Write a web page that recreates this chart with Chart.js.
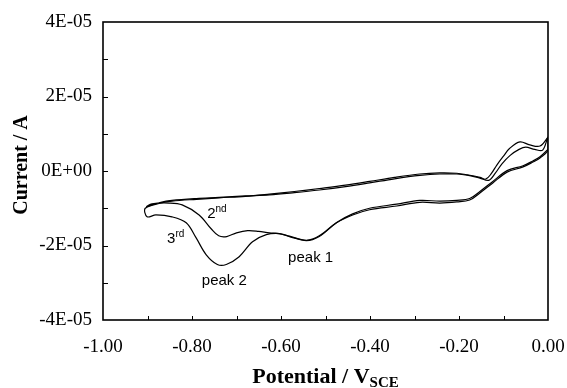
<!DOCTYPE html>
<html>
<head>
<meta charset="utf-8">
<script src="https://cdn.jsdelivr.net/npm/chart.js@4.4.0/dist/chart.umd.min.js"></script>
<style>
  html, body { margin: 0; padding: 0; background: #fff; }
  #wrap { width: 567px; height: 388px; }
</style>
</head>
<body>
<div id="wrap"><canvas id="cv" width="567" height="388"></canvas></div>
<script>
// potential in V vs SCE, current in units of 1E-05 A

// 2nd scan: anodic sweep from -0.9 V up to 0 V, then cathodic back to -0.9 V
const cycle2Potential = [
  -0.903, -0.870, -0.845, -0.790, -0.739, -0.680, -0.626, -0.570, -0.514, -0.455,
  -0.401, -0.345, -0.288, -0.243, -0.205, -0.182, -0.153, -0.133, -0.118, -0.103,
  -0.085, -0.065, -0.050, -0.030, -0.012, 0.000,
  0.000, -0.018, -0.034, -0.056, -0.092, -0.124, -0.153, -0.176, -0.205, -0.243,
  -0.288, -0.340, -0.401, -0.439, -0.475, -0.514, -0.543, -0.581, -0.604, -0.626,
  -0.650, -0.675, -0.700, -0.722, -0.740, -0.757, -0.784, -0.822, -0.851, -0.890, -0.903
];
const cycle2Current = [
  -0.96, -0.84, -0.79, -0.74, -0.71, -0.67, -0.64, -0.58, -0.51, -0.42,
  -0.32, -0.21, -0.12, -0.08, -0.08, -0.11, -0.19, -0.25, -0.05, 0.20,
  0.42, 0.58, 0.64, 0.58, 0.56, 0.91,
  0.56, 0.35, 0.24, 0.11, -0.03, -0.32, -0.59, -0.78, -0.83, -0.86,
  -0.84, -0.94, -1.04, -1.18, -1.39, -1.76, -1.87, -1.76, -1.68, -1.66,
  -1.62, -1.60, -1.66, -1.76, -1.74, -1.55, -1.18, -0.91, -0.86, -0.88, -0.96
];

// 3rd scan: cathodic sweep from 0 V down to -0.9 V, then anodic back to 0 V
const cycle3Potential = [
  0.000, -0.018, -0.034, -0.056, -0.092, -0.124, -0.153, -0.176, -0.205, -0.243,
  -0.288, -0.340, -0.401, -0.439, -0.475, -0.514, -0.543, -0.581, -0.604, -0.633,
  -0.664, -0.694, -0.723, -0.743, -0.768, -0.791, -0.813, -0.845, -0.881, -0.901,
  -0.905, -0.870, -0.845, -0.790, -0.739, -0.680, -0.626, -0.570, -0.514, -0.455,
  -0.401, -0.345, -0.288, -0.243, -0.205, -0.182, -0.153, -0.140, -0.128, -0.115,
  -0.100, -0.086, -0.063, -0.041, -0.018, 0.000
];
const cycle3Current = [
  0.58, 0.38, 0.27, 0.14, 0.01, -0.28, -0.55, -0.74, -0.79, -0.81,
  -0.79, -0.89, -1.00, -1.15, -1.38, -1.74, -1.86, -1.75, -1.68, -1.71,
  -1.90, -2.30, -2.51, -2.51, -2.25, -1.79, -1.39, -1.23, -1.18, -1.23,
  -1.00, -0.86, -0.81, -0.76, -0.72, -0.68, -0.62, -0.55, -0.47, -0.38,
  -0.28, -0.17, -0.08, -0.05, -0.06, -0.10, -0.17, -0.22, -0.08, 0.16,
  0.40, 0.61, 0.78, 0.70, 0.67, 0.91
];

// axis ticks
const xTickValues = [-1.0, -0.8, -0.6, -0.4, -0.2, 0.0];
const yTickValues = [-4, -2, 0, 2, 4];
const xMinorTicks = [-0.9, -0.8, -0.7, -0.6, -0.5, -0.4, -0.3, -0.2, -0.1];
const yMinorTicks = [-3, -2, -1, 0, 1, 2, 3];

// labels written on the plot
const noteText = ['2', '3', 'peak 1', 'peak 2'];
const noteSup = ['nd', 'rd', '', ''];
const notePotential = [-0.766, -0.856, -0.584, -0.778];
const noteCurrent = [-1.26, -1.93, -2.44, -3.06];

function toPoints(xs, ys) {
  return xs.map((x, i) => ({ x: x, y: ys[i] }));
}

function sciLabel(v) {
  if (Math.abs(v) < 1e-9) return '0E+00';
  return Math.round(v) + 'E-05';
}

const serif = '"Liberation Serif", "Times New Roman", serif';
const sans = '"Liberation Sans", Arial, sans-serif';

const decorations = {
  id: 'decorations',
  afterDatasetsDraw(chart) {
    const ctx = chart.ctx;
    const area = chart.chartArea;
    const xs = chart.scales.x;
    const ys = chart.scales.y;
    ctx.save();

    // frame
    ctx.strokeStyle = '#000';
    ctx.lineWidth = 1.6;
    ctx.strokeRect(area.left, area.top, area.right - area.left, area.bottom - area.top);

    // inward tick marks
    ctx.lineWidth = 1;
    ctx.beginPath();
    xMinorTicks.forEach(v => {
      const px = Math.round(xs.getPixelForValue(v)) + 0.5;
      ctx.moveTo(px, area.bottom);
      ctx.lineTo(px, area.bottom - 4);
    });
    yMinorTicks.forEach(v => {
      const py = Math.round(ys.getPixelForValue(v)) + 0.5;
      ctx.moveTo(area.left, py);
      ctx.lineTo(area.left + 5, py);
    });
    ctx.stroke();

    // notes on the curves
    ctx.fillStyle = '#000';
    ctx.textAlign = 'left';
    ctx.textBaseline = 'alphabetic';
    noteText.forEach((t, i) => {
      const px = xs.getPixelForValue(notePotential[i]);
      const py = ys.getPixelForValue(noteCurrent[i]);
      ctx.font = '15px ' + sans;
      ctx.fillText(t, px, py);
      if (noteSup[i]) {
        const w = ctx.measureText(t).width;
        ctx.font = '10px ' + sans;
        ctx.fillText(noteSup[i], px + w, py - 6);
      }
    });

    // x axis title with subscript
    const main = 'Potential / V';
    const sub = 'SCE';
    ctx.font = 'bold 22px ' + serif;
    const w1 = ctx.measureText(main).width;
    ctx.font = 'bold 15px ' + serif;
    const w2 = ctx.measureText(sub).width;
    const cx = (area.left + area.right) / 2;
    const x0 = cx - (w1 + w2) / 2;
    ctx.font = 'bold 22px ' + serif;
    ctx.fillText(main, x0, 383);
    ctx.font = 'bold 15px ' + serif;
    ctx.fillText(sub, x0 + w1, 387);

    // y axis title
    ctx.save();
    ctx.translate(22, 165);
    ctx.rotate(-Math.PI / 2);
    ctx.textAlign = 'center';
    ctx.textBaseline = 'middle';
    ctx.font = 'bold 20px ' + serif;
    ctx.fillText('Current / A', 0, 0);
    ctx.restore();

    ctx.restore();
  }
};

const lineStyle = {
  showLine: true,
  borderColor: '#000',
  borderWidth: 1.2,
  pointRadius: 0,
  tension: 0.35,
  fill: false
};

new Chart(document.getElementById('cv').getContext('2d'), {
  type: 'scatter',
  data: {
    datasets: [
      Object.assign({ label: '2nd', data: toPoints(cycle2Potential, cycle2Current) }, lineStyle),
      Object.assign({ label: '3rd', data: toPoints(cycle3Potential, cycle3Current) }, lineStyle)
    ]
  },
  options: {
    responsive: false,
    animation: false,
    devicePixelRatio: 1,
    layout: { padding: { top: 22, right: 19, left: 0, bottom: 0 } },
    plugins: {
      legend: { display: false },
      tooltip: { enabled: false }
    },
    scales: {
      x: {
        type: 'linear',
        min: -1,
        max: 0,
        afterBuildTicks: s => { s.ticks = xTickValues.map(v => ({ value: v })); },
        afterFit: s => { s.height = 68; s.paddingLeft = 0; s.paddingRight = 0; },
        grid: { display: false, drawTicks: false },
        border: { display: false },
        ticks: {
          color: '#000',
          padding: 16,
          maxRotation: 0,
          font: { family: serif, size: 19 },
          callback: v => Number(v).toFixed(2)
        },
        title: { display: false }
      },
      y: {
        type: 'linear',
        min: -4,
        max: 4,
        afterBuildTicks: s => { s.ticks = yTickValues.map(v => ({ value: v })); },
        afterFit: s => { s.width = 103; s.paddingTop = 0; s.paddingBottom = 0; },
        grid: { display: false, drawTicks: false },
        border: { display: false },
        ticks: {
          color: '#000',
          padding: 11,
          font: { family: serif, size: 19 },
          callback: v => sciLabel(v)
        },
        title: { display: false }
      }
    }
  },
  plugins: [decorations]
});
</script>
</body>
</html>
